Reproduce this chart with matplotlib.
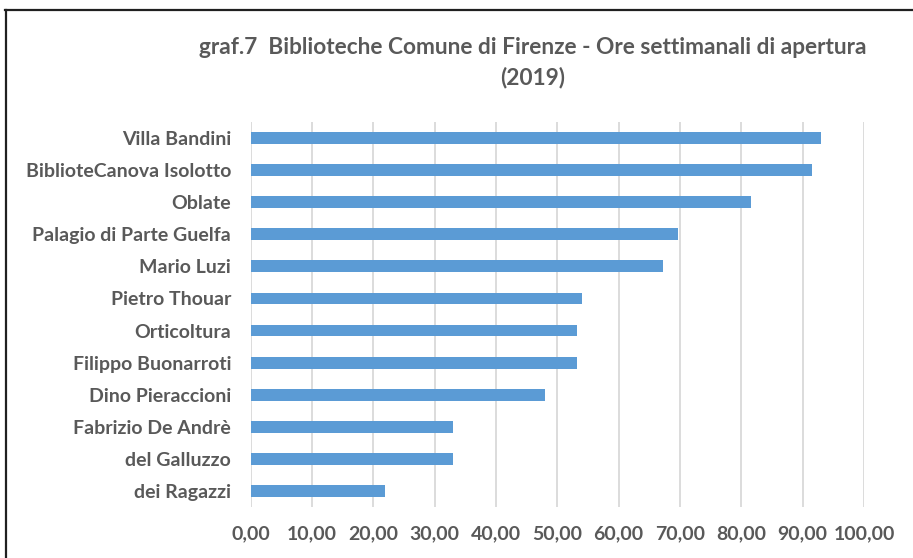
import matplotlib.pyplot as plt
from matplotlib.lines import Line2D
from matplotlib.ticker import FuncFormatter

biblioteche = ["Villa Bandini", "BiblioteCanova Isolotto", "Oblate",
               "Palagio di Parte Guelfa", "Mario Luzi", "Pietro Thouar",
               "Orticoltura", "Filippo Buonarroti", "Dino Pieraccioni",
               "Fabrizio De Andrè", "del Galluzzo", "dei Ragazzi"]
ore = [93.0, 91.5, 81.5, 69.75, 67.25, 54.0, 53.25, 53.25, 48.0, 33.0, 33.0, 22.0]
xticks = [0, 10, 20, 30, 40, 50, 60, 70, 80, 90, 100]

plt.rcParams['font.family'] = ['Lato', 'DejaVu Sans']
grigio = "#595959"

fig = plt.figure(figsize=(9.13, 5.58), dpi=100)
ax = fig.add_axes([250.5/913, 1-507/558, (864-250.5)/913, (507-122)/558])

ax.barh(range(len(ore)), ore, height=0.37, color="#5B9BD5", zorder=3)
ax.set_ylim(len(ore)-0.5, -0.5)
ax.set_xlim(0, 100)
ax.set_yticks(range(len(ore)))
ax.set_yticklabels(biblioteche, fontsize=14, fontweight='bold', color=grigio)
ax.set_xticks(xticks)
ax.xaxis.set_major_formatter(FuncFormatter(lambda v, p: f"{v:.2f}".replace(".", ",")))
for lab in ax.get_xticklabels():
    lab.set_fontsize(14)
    lab.set_fontweight('bold')
    lab.set_color(grigio)
ax.tick_params(axis='y', length=0, pad=14)
ax.tick_params(axis='x', length=0, pad=13)
ax.grid(axis='x', color="#D9D9D9", linewidth=1.3, zorder=0)
for s in ax.spines.values():
    s.set_visible(False)

fig.text(533/913, 1-48/558, "graf.7  Biblioteche Comune di Firenze - Ore settimanali di apertura",
         ha='center', va='center', fontsize=16.3, fontweight='bold', color=grigio)
fig.text(533/913, 1-78/558, "(2019)", ha='center', va='center',
         fontsize=16.3, fontweight='bold', color=grigio)

# cornice del grafico (tagliata a destra e in basso)
fig.add_artist(Line2D([5/913, 1], [1-9.5/558]*2, color="#202020", linewidth=1.6,
                      transform=fig.transFigure))
fig.add_artist(Line2D([5.5/913]*2, [0, 1-9.5/558], color="#202020", linewidth=1.6,
                      transform=fig.transFigure))

fig.savefig("out.png", dpi=100)
